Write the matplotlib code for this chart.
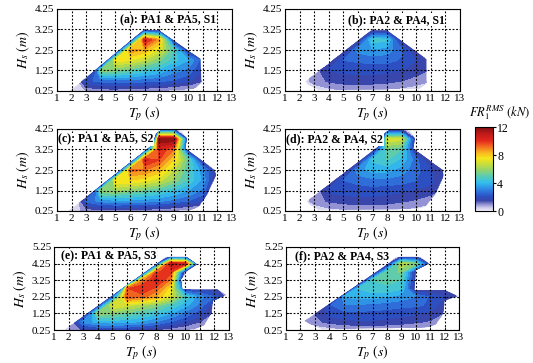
import numpy as np
import matplotlib
matplotlib.use('Agg')
import matplotlib.pyplot as plt
from matplotlib.colors import LinearSegmentedColormap, Normalize
from matplotlib.cm import ScalarMappable
from matplotlib.patches import Polygon

plt.rcParams['font.family'] = ['Liberation Serif', 'DejaVu Serif']
plt.rcParams['mathtext.fontset'] = 'stix'

# ---------------- data ----------------
tp_grid = [1, 2, 3, 4, 5, 6, 7, 8, 9, 10, 11, 12, 13]
hs_grid = [0.25, 0.75, 1.25, 1.75, 2.25, 2.75, 3.25, 3.75, 4.25, 4.75, 5.25]

# FR1 RMS (kN) on the (Hs, Tp) grid; rows = Hs, columns = Tp
z_a = [
    [-2, 0.3, 0.6, 0.8, 0.8, 0.7, 0.6, 0.5, 0.3, 0.2, 0.1, -1, -2],
    [-3, -0.6, 2.2, 2.6, 2.7, 2.7, 2.6, 2.5, 2.3, 1.9, 1.2, -1, -2],
    [-5, -5, -4.5, 5.5, 5.5, 5.0, 4.5, 4.0, 3.2, 2.8, 1.6, -1, -3],
    [-5, -5, -5, -3.2, 7.5, 7.2, 6.5, 5.5, 4.4, 3.6, 2.0, -1, -3],
    [-5, -5, -5, -5, -1.5, 8.8, 8.3, 7.0, 4.8, 1.3, -1, -3, -5],
    [-5, -5, -5, -5, -5, 0, 10.5, 8.5, 0.9, -2, -4, -5, -5],
    [-5, -5, -5, -5, -5, -5, 0.5, 0.5, -3, -5, -5, -5, -5],
    [-5] * 13, [-5] * 13, [-5] * 13, [-5] * 13,
]
z_b = [
    [-3, 0, 0.2, 0.3, 0.5, 0.5, 0.5, 0.4, 0.3, 0.2, 0, -2, -3],
    [-3, 0.2, 0.8, 1.3, 1.5, 1.5, 1.5, 1.4, 1.2, 0.9, 0.6, -1, -3],
    [-3, -1, 0.8, 1.8, 1.9, 2.0, 2.0, 1.9, 1.8, 1.5, 1.1, -1, -3],
    [-3, -3, -3, 0.7, 2.4, 2.5, 2.6, 2.6, 2.3, 1.8, 1.2, -1, -3],
    [-3, -3, -3, -3, 0.7, 3.2, 3.5, 3.3, 2.5, 1.0, -1, -3, -3],
    [-3, -3, -3, -3, -3, 0.8, 4.5, 4.3, 0.9, -2, -3, -3, -3],
    [-3, -3, -3, -3, -3, -3, 0.8, 0.8, -3, -3, -3, -3, -3],
    [-3] * 13, [-3] * 13, [-3] * 13, [-3] * 13,
]
z_c = [
    [-3, 0.4, 0.7, 0.9, 0.9, 0.8, 0.7, 0.6, 0.4, 0.2, 0.1, -1, -3],
    [-3, -1.4, 2.6, 3.2, 3.4, 3.4, 3.3, 3.1, 2.8, 2.4, 1.8, 0.6, -2],
    [-5, -5, -4.7, 6.0, 6.0, 5.6, 5.2, 4.8, 4.2, 3.6, 2.8, -0.1, -1],
    [-5, -5, -5, -4, 7.8, 7.8, 7.4, 6.8, 5.8, 4.6, 3.4, 0.6, -1],
    [-5, -5, -5, -5, -3.1, 9.2, 9.0, 8.2, 6.6, 4.8, 3.2, 1.1, -2],
    [-5, -5, -5, -5, -5, -1.7, 10.4, 9.6, 7.8, 5.0, 0.9, -2, -3],
    [-5, -5, -5, -5, -5, -5, 0, 10.2, 9.0, 0.67, -3, -5, -5],
    [-5, -5, -5, -5, -5, -5, -23, 12, 12, 0.33, -5, -5, -5],
    [-5, -5, -5, -5, -5, -5, -5, 0.83, 0.83, -5, -5, -5, -5],
    [-5] * 13, [-5] * 13,
]
z_d = [
    [-3, 0, 0.2, 0.3, 0.4, 0.5, 0.5, 0.5, 0.4, 0.3, 0.1, -0.5, -3],
    [-3, 0.2, 0.8, 1.3, 1.5, 1.6, 1.6, 1.5, 1.3, 1.1, 0.8, 0.3, -2],
    [-3, -1, 0.6, 1.9, 2.0, 2.1, 2.1, 2.0, 1.9, 1.7, 1.5, 0.9, -1],
    [-3, -3, -3, 0.4, 2.4, 2.6, 2.8, 2.8, 2.7, 2.4, 2.0, 1.0, -1],
    [-3, -3, -3, -3, 0.2, 3.4, 3.8, 3.8, 3.3, 2.6, 1.8, 1.05, -2],
    [-3, -3, -3, -3, -3, 0.3, 4.3, 4.8, 4.0, 2.6, 0.95, -2, -3],
    [-3, -3, -3, -3, -3, -3, 0.5, 5.3, 4.8, 0.8, -3, -3, -3],
    [-3, -3, -3, -3, -3, -3, -12, 7.0, 6.8, 0.6, -3, -3, -3],
    [-3, -3, -3, -3, -3, -3, -3, 0.83, 0.83, -3, -3, -3, -3],
    [-3] * 13, [-3] * 13,
]
z_e = [
    [-3, 0.5, 1.3, 1.6, 1.7, 1.6, 1.4, 1.1, 0.8, 0.5, 0.3, -1, -3],
    [-3, 0, 3.2, 3.8, 3.9, 3.8, 3.5, 3.0, 2.4, 1.8, 1.2, 0.5, -2],
    [-3, -3, -0.2, 5.8, 5.6, 5.2, 4.8, 4.3, 3.6, 2.8, 2.0, 1.0, -1],
    [-3, -3, -3, 0.9, 7.2, 6.8, 6.2, 5.6, 4.8, 3.8, 2.8, 1.2, -1],
    [-5, -5, -5, -5, 2.0, 9.5, 9.2, 8.4, 6.8, 4.6, 3.2, 2.4, 0.6],
    [-5, -5, -5, -5, -17, 9.5, 10.2, 9.4, 7.4, 1.2, 1.3, 1.4, -2],
    [-5, -5, -5, -5, -5, -5.5, 8.5, 10.5, 8.8, -1.5, -5, -5, -5],
    [-5, -5, -5, -5, -5, -5, -1.9, 9.5, 9.8, 0.1, -5, -5, -5],
    [-5, -5, -5, -5, -5, -5, -5, 0.45, 11, 10.5, -0.75, -5, -5],
    [-5, -5, -5, -5, -5, -5, -5, -5, -0.9, -0.9, -5, -5, -5],
    [-5] * 13,
]
z_f = [
    [-3, -1, 0, 0.2, 0.4, 0.5, 0.5, 0.5, 0.4, 0.3, 0.2, -0.5, -3],
    [-3, 0.5, 1.0, 1.4, 1.6, 1.7, 1.7, 1.6, 1.5, 1.3, 1.1, 0.6, -2],
    [-3, -3, 1.2, 2.0, 2.2, 2.2, 2.2, 2.1, 2.0, 1.9, 1.7, 1.1, -1],
    [-9, -9, -8.7, 2.3, 2.9, 2.9, 2.8, 2.7, 2.6, 2.5, 2.3, 1.2, -1],
    [-9, -9, -9, -6.4, 3.6, 3.8, 3.8, 3.6, 3.3, 3.0, 2.3, 1.8, 1.1],
    [-9, -9, -9, -9, -3.3, 4.2, 4.6, 4.6, 4.3, 0.75, 0.93, 1.05, -2],
    [-9, -9, -9, -9, -9, -1.75, 4.8, 5.0, 4.8, 1.0, -3, -3, -3],
    [-9, -9, -9, -9, -9, -9, -0.43, 5.0, 5.5, 1.2, -3, -3, -3],
    [-9, -9, -9, -9, -9, -9, -9, 0.26, 6.5, 5.5, 0.72, -3, -3],
    [-9, -9, -9, -9, -9, -9, -9, -9, -0.13, 0.13, -9, -9, -9],
    [-9] * 13,
]

# sea-state domain boundaries (Tp, Hs)
dom_a = [(1.9, 0.25), (6.9, 3.2), (8.0, 3.2), (10.85, 1.8), (10.9, 0.65), (10.4, 0.35), (9.6, 0.25)]
dom_b = [(2.4, 0.72), (6.9, 3.2), (8.0, 3.2), (10.7, 1.8), (10.7, 0.6), (10.2, 0.35), (3.3, 0.3), (2.6, 0.55)]
dom_c = [(1.8, 0.25), (7.6, 3.5), (7.75, 4.0), (8.2, 4.22), (9.5, 4.22), (9.9, 3.8), (9.8, 3.3),
         (11.8, 2.25), (11.9, 2.0), (11.3, 1.05), (10.7, 0.45), (10.0, 0.25)]
dom_d = [(2.5, 0.72), (7.6, 3.5), (7.75, 4.0), (8.2, 4.22), (9.5, 4.22), (9.9, 3.8), (9.8, 3.3),
         (11.8, 2.25), (11.9, 2.0), (11.3, 1.05), (10.6, 0.45), (10.0, 0.35), (3.3, 0.3), (2.7, 0.55)]
dom_e = [(1.7, 0.25), (8.4, 4.45), (8.6, 4.65), (10.1, 4.65), (10.8, 4.2), (10.2, 3.85), (9.7, 3.3),
         (9.8, 2.7), (12.2, 2.7), (12.8, 2.35), (11.9, 2.0), (11.8, 1.25), (11.3, 0.55), (10.5, 0.25)]
dom_f = [(2.3, 0.8), (8.2, 4.3), (8.6, 4.65), (10.3, 4.65), (10.9, 4.25), (10.0, 3.85), (9.9, 2.65),
         (12.0, 2.65), (12.9, 2.3), (12.0, 2.0), (11.9, 1.2), (11.4, 0.6), (10.8, 0.4), (3.5, 0.3), (2.8, 0.55)]

titles = ['(a): PA1 & PA5, S1', '(b): PA2 & PA4, S1', '(c): PA1 & PA5, S2',
          '(d): PA2 & PA4, S2', '(e): PA1 & PA5, S3', '(f): PA2 & PA4, S3']
x_ticks = [1, 2, 3, 4, 5, 6, 7, 8, 9, 10, 11, 12, 13]
y_ticks_s12 = [0.25, 1.25, 2.25, 3.25, 4.25]
y_ticks_s3 = [0.25, 1.25, 2.25, 3.25, 4.25, 5.25]
cbar_ticks = [0, 4, 8, 12]

# ---------------- style ----------------
cmap = LinearSegmentedColormap.from_list('fr', [
    (0.00, '#f0eff9'), (0.04, '#c8c6ea'), (0.08, '#8b8ad0'), (0.12, '#3b45a8'),
    (0.17, '#2c4fc0'), (0.23, '#2f72dc'), (0.29, '#2f9eea'), (0.34, '#35c0ec'),
    (0.41, '#55cbb8'), (0.48, '#8ed273'), (0.56, '#cade3a'), (0.63, '#f6e51c'),
    (0.70, '#f8b420'), (0.77, '#f26a20'), (0.84, '#e2261c'), (0.92, '#c01a1a'),
    (1.00, '#820e0e')])
cmap.set_under('#f0eff9')
levels = np.linspace(0, 12, 21)

W, H = 533, 363
fig = plt.figure(figsize=(W / 100, H / 100), dpi=100)

def rect(l, r, t, b):
    return [l / W, 1 - b / H, (r - l) / W, (b - t) / H]

rects = [rect(57, 232, 9, 91), rect(285, 460, 9, 91),
         rect(57, 232, 129, 211), rect(285, 460, 129, 211),
         rect(54, 229, 247, 330), rect(286, 459, 247, 330)]
zs = [z_a, z_b, z_c, z_d, z_e, z_f]
doms = [dom_a, dom_b, dom_c, dom_d, dom_e, dom_f]
title_pos = [(5.3, 3.72), (5.3, 3.72), (1.1, 3.76), (1.1, 3.76), (1.5, 4.72), (1.6, 4.72)]

for i in range(6):
    ax = fig.add_axes(rects[i])
    ymax = 5.25 if i >= 4 else 4.25
    cs = ax.contourf(tp_grid, hs_grid, np.array(zs[i], dtype=float), levels=levels,
                     cmap=cmap, extend='min', zorder=1)
    cs.set_edgecolor('face')
    cs.set_linewidth(0.3)
    clip = Polygon(doms[i], closed=True, transform=ax.transData)
    cs.set_clip_path(clip)
    ax.set_xlim(1, 13)
    ax.set_ylim(0.25, ymax)
    ax.set_xticks(x_ticks)
    ax.set_xticklabels([str(v) for v in x_ticks])
    yt = y_ticks_s3 if i >= 4 else y_ticks_s12
    ax.set_yticks(yt)
    ax.set_yticklabels(['%.2f' % v for v in yt])
    ax.tick_params(direction='in', length=2, labelsize=8, pad=2, width=0.6)
    ax.set_axisbelow(False)
    ax.grid(True, color='black', linestyle=(0, (1.6, 1.6)), linewidth=0.8)
    for sp in ax.spines.values():
        sp.set_linewidth(0.8)
    ax.set_xlabel(r'$T_p\ (s)$', fontsize=10, labelpad=1)
    ax.set_ylabel(r'$H_s\ (m)$', fontsize=10, labelpad=2)
    ax.text(title_pos[i][0], title_pos[i][1], titles[i], fontsize=8.5, fontweight='bold',
            va='center', ha='left', zorder=5,
            bbox=dict(facecolor='white', edgecolor='none', pad=0.3))

cax = fig.add_axes(rect(475, 493, 127, 211))
sm = ScalarMappable(norm=Normalize(0, 12), cmap=cmap)
cb = fig.colorbar(sm, cax=cax, ticks=cbar_ticks)
cb.ax.tick_params(labelsize=8.5, length=2, pad=1)
cb.outline.set_linewidth(0.8)
fig.text(500 / W, 1 - 113 / H, r'$FR_1^{RMS}\ (kN)$', fontsize=9, ha='center', va='center')

fig.savefig('out.png', dpi=100)
